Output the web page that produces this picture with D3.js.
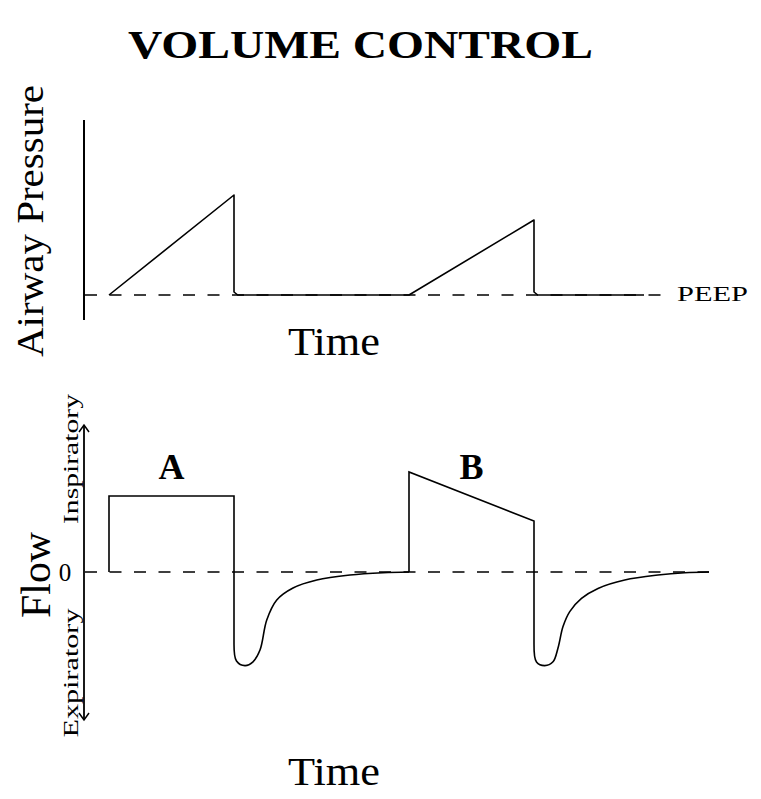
<!DOCTYPE html>
<html>
<head>
<meta charset="utf-8">
<script src="https://cdn.jsdelivr.net/npm/d3@7"></script>
<style>
  html, body { margin: 0; padding: 0; background: #fff; }
  svg text { font-family: "Liberation Serif", "DejaVu Serif", serif; fill: #000; }
</style>
</head>
<body>
<div id="chart"></div>
<script>
// waveform data: [time, value]
const pressureTrace = [[0, 0], [5, 10], [5, 0.3], [5.15, 0], [12, 0], [17, 7.5], [17, 0.3], [17.15, 0], [21.4, 0]];
const flowBreathA = [[0, 0], [0, 3.8], [5, 3.8], [5, -3.6]];
const flowExpA = [[5, -3.6], [5.1, -4.45], [5.44, -4.68], [5.76, -4.49], [6.04, -3.9], [6.31, -2.4], [6.71, -1.4],
  [7.36, -0.8], [8.31, -0.4], [9.64, -0.15], [10.96, -0.035], [12, 0]];
const flowBreathB = [[12, 0], [12, 5.0], [17, 2.55], [17, -3.6]];
const flowExpB = [[17, -3.6], [17.1, -4.5], [17.43, -4.68], [17.76, -4.49], [17.96, -3.8], [18.16, -2.73], [18.43, -1.98],
  [18.9, -1.32], [19.56, -0.82], [20.63, -0.4], [21.96, -0.15], [23.03, -0.035], [24, 0]];
const peepLine = [[-1, 0], [22.3, 0]];
const zeroLine = [[-1, 0], [24, 0]];
const labelsAB = [{ t: 2.5, v: 4.65, text: "A" }, { t: 14.5, v: 4.65, text: "B" }];

const W = 761, H = 799;
const svg = d3.select("#chart").append("svg").attr("width", W).attr("height", H);

const x = d3.scaleLinear().domain([0, 24]).range([109, 709]);
const yP = d3.scaleLinear().domain([0, 10]).range([295, 195]);
const yF = d3.scaleLinear().domain([0, 3.8]).range([572, 496]);

const lineP = d3.line().x(d => x(d[0])).y(d => yP(d[1]));
const lineF = d3.line().x(d => x(d[0])).y(d => yF(d[1]));
const curveF = d3.line().x(d => x(d[0])).y(d => yF(d[1])).curve(d3.curveCatmullRom.alpha(0.5));

const stroke = (sel, w) => sel.attr("fill", "none").attr("stroke", "#000").attr("stroke-width", w);

// text helper: stretch glyphs to the measured width in the reference
function label(tr, size, len, str, bold) {
  const t = svg.append("text")
    .attr("transform", tr)
    .attr("text-anchor", "middle")
    .attr("font-size", size)
    .text(str);
  if (len) t.attr("textLength", len).attr("lengthAdjust", "spacingAndGlyphs");
  if (bold) t.attr("font-weight", "bold");
  return t;
}

// title
label("translate(360.5,58)", 39, 465, "VOLUME CONTROL", true);

// ---- top panel: airway pressure ----
stroke(svg.append("path").attr("d", lineP([[-1, -2.5], [-1, 17.5]])), 2);
stroke(svg.append("path").attr("d", lineP(peepLine)), 1.7).attr("stroke-dasharray", "12 12.5").attr("stroke-dashoffset", -1);
stroke(svg.append("path").attr("d", lineP(pressureTrace)), 1.6).attr("stroke-linejoin", "round");

label("translate(712.5,301)", 20, 71, "PEEP");
label("translate(43,221) rotate(-90)", 37, 272, "Airway Pressure");
label("translate(334,355)", 40, 92, "Time");

// ---- bottom panel: flow ----
const axTop = yF(7.35), axBot = yF(-7.4), axX = x(-1);
stroke(svg.append("path").attr("d", `M${axX},${axTop}V${axBot}`), 1.8);
stroke(svg.append("path").attr("d", `M${axX - 5},${axTop + 7}L${axX},${axTop}L${axX + 5},${axTop + 7}`), 1.5);
stroke(svg.append("path").attr("d", `M${axX - 5},${axBot - 7}L${axX},${axBot}L${axX + 5},${axBot - 7}`), 1.5);

stroke(svg.append("path").attr("d", lineF(zeroLine)), 1.7).attr("stroke-dasharray", "12 12.5").attr("stroke-dashoffset", -1);
[flowBreathA, flowBreathB].forEach(b => stroke(svg.append("path").attr("d", lineF(b)), 1.6));
[flowExpA, flowExpB].forEach(c => stroke(svg.append("path").attr("d", curveF(c)), 1.6));

svg.selectAll("text.ab").data(labelsAB).join("text")
  .attr("class", "ab")
  .attr("x", d => x(d.t)).attr("y", d => yF(d.v))
  .attr("text-anchor", "middle")
  .attr("font-size", 36).attr("font-weight", "bold")
  .text(d => d.text);

label(`translate(65,${yF(0)})`, 25, null, "0").attr("dy", "0.35em");
label("translate(50,575) rotate(-90)", 42, 86, "Flow");
label("translate(78,459) rotate(-90)", 21, 130, "Inspiratory");
label("translate(78,673) rotate(-90)", 21, 129, "Expiratory");
label("translate(334,785)", 40, 92, "Time");
</script>
</body>
</html>
